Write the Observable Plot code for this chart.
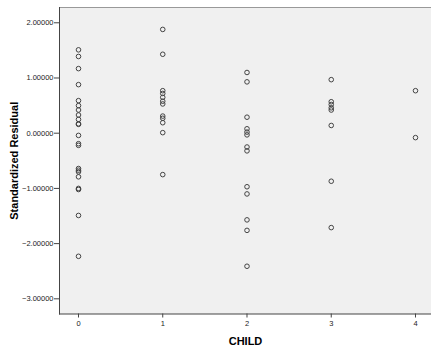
<!DOCTYPE html>
<html>
<head>
<meta charset="utf-8">
<script src="https://cdn.jsdelivr.net/npm/d3@7"></script>
<script src="https://cdn.jsdelivr.net/npm/@observablehq/plot@0.6"></script>
<style>
  html, body { margin: 0; padding: 0; background: #fff; }
  #chart svg { display: block; font-family: "Liberation Sans", Arial, sans-serif; }
  #chart g[aria-label="x-axis label"] text,
  #chart g[aria-label="y-axis label"] text { font-weight: bold; font-size: 11px; fill: #000; }
  #chart g[aria-label="x-axis tick label"] text,
  #chart g[aria-label="y-axis tick label"] text { font-size: 7.5px; fill: #222; }
</style>
</head>
<body>
<div id="chart"></div>
<script>
const childCategories = [0, 1, 2, 3, 4];
const residChild0 = [1.51, 1.39, 1.17, 0.88, 0.59, 0.50, 0.42, 0.33, 0.25, 0.17, 0.16, -0.04, -0.19, -0.22, -0.64, -0.67, -0.70, -0.79, -1.00, -1.02, -1.49, -2.23];
const residChild1 = [1.88, 1.43, 0.77, 0.72, 0.65, 0.58, 0.53, 0.31, 0.27, 0.19, 0.01, -0.75];
const residChild2 = [1.10, 0.93, 0.29, 0.08, 0.02, -0.03, -0.25, -0.32, -0.97, -1.10, -1.57, -1.76, -2.41];
const residChild3 = [0.97, 0.57, 0.52, 0.46, 0.42, 0.14, -0.87, -1.71];
const residChild4 = [0.77, -0.08];
const yTicks = [-3, -2, -1, 0, 1, 2];

const series = [residChild0, residChild1, residChild2, residChild3, residChild4];
const data = series.flatMap((vals, i) => vals.map(v => ({child: childCategories[i], resid: v})));

const xDomain = [-0.2255, 4.19];
const yDomain = [-3.275, 2.277];

const chart = Plot.plot({
  width: 431,
  height: 356,
  marginLeft: 59,
  marginRight: 0,
  marginTop: 7,
  marginBottom: 42.5,
  style: {background: "#fff", fontFamily: "Liberation Sans, Arial, sans-serif"},
  x: {domain: xDomain},
  y: {domain: yDomain},
  marks: [
    Plot.frame({fill: "#f0f0f0", stroke: "none"}),
    Plot.frame({anchor: "top", stroke: "#999"}),
    Plot.frame({anchor: "left", stroke: "#444"}),
    Plot.frame({anchor: "bottom", stroke: "#444"}),
    Plot.axisY({ticks: yTicks, tickFormat: d3.format(".5f"), tickSize: 5, tickPadding: 1, stroke: "#444",
      label: "Standardized Residual", labelAnchor: "center", labelArrow: "none", labelOffset: 49}),
    Plot.axisX({ticks: childCategories, tickFormat: d => String(d), tickSize: 4, tickPadding: 3, stroke: "#444",
      label: "CHILD", labelAnchor: "center", labelArrow: "none", labelOffset: 31}),
    Plot.dot(data, {x: "child", y: "resid", r: 2.3, stroke: "#444", strokeWidth: 1, fill: "none"})
  ]
});
document.getElementById("chart").appendChild(chart);
</script>
</body>
</html>
